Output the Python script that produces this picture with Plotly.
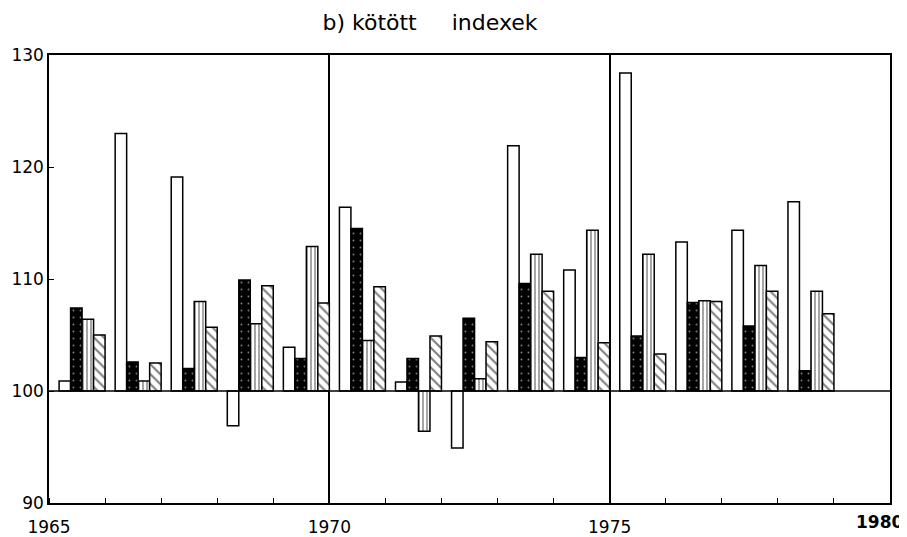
import plotly.graph_objects as go

years = list(range(1965, 1979))
# index values (previous year = 100)
s_white = [100.9, 123.0, 119.1, 96.9, 103.9, 116.4, 100.8, 94.9, 121.9, 110.8, 128.4, 113.3, 114.35, 116.9]
s_dark = [107.4, 102.6, 102.0, 109.9, 102.9, 114.5, 102.9, 106.5, 109.6, 103.0, 104.9, 107.9, 105.8, 101.8]
s_vert = [106.4, 100.9, 108.0, 106.0, 112.9, 104.5, 96.4, 101.1, 112.2, 114.35, 112.2, 108.05, 111.2, 108.9]
s_hatch = [105.0, 102.5, 105.7, 109.4, 107.85, 109.3, 104.9, 104.4, 108.9, 104.3, 103.3, 108.0, 108.9, 106.9]

x_tickvals = [1965, 1970, 1975]
x_ticktext = ["1965", "1970", "1975"]
last_year_label = "1980"

BASE = 100
xpos = [y + 0.59 for y in years]

series = [
    (s_white, dict(color="white", pattern=dict(shape=""))),
    (s_dark, dict(color="black", pattern=dict(shape=".", fgcolor="white", bgcolor="black", size=7, solidity=0.06))),
    (s_vert, dict(color="white", pattern=dict(shape="|", fgcolor="black", bgcolor="white", size=4, solidity=0.35))),
    (s_hatch, dict(color="white", pattern=dict(shape="\\", fgcolor="black", bgcolor="white", size=7, solidity=0.3))),
]

fig = go.Figure()
for vals, mk in series:
    fig.add_trace(go.Bar(
        x=xpos,
        y=[v - BASE for v in vals],
        base=BASE,
        marker=dict(line=dict(color="black", width=1.5), **mk),
        showlegend=False,
    ))

fig.add_shape(type="line", xref="paper", yref="y", x0=0, x1=1, y0=BASE, y1=BASE,
              line=dict(color="black", width=1.5), layer="above")

fig.add_annotation(text=f"<b>{last_year_label}</b>", x=1980, xref="x", y=0, yref="paper",
                   xanchor="center", yanchor="top", xshift=-11, yshift=-7, showarrow=False,
                   font=dict(family="DejaVu Sans", size=17, color="black"))

fig.update_layout(
    width=899, height=529,
    margin=dict(l=41, r=17, t=47, b=34, autoexpand=False),
    paper_bgcolor="white", plot_bgcolor="white",
    barmode="group", bargap=0.18, bargroupgap=0,
    title=dict(text="b)\u00a0kötött\u00a0\u00a0\u00a0\u00a0\u00a0indexek", x=0.4694, xanchor="center",
               y=0.9735, yanchor="middle", automargin=False,
               font=dict(family="DejaVu Sans", size=22, color="black")),
    font=dict(family="DejaVu Sans", size=17, color="black"),
)
fig.update_xaxes(
    range=[1965, 1980],
    tickvals=x_tickvals,
    ticktext=x_ticktext,
    showgrid=True, gridcolor="black", gridwidth=1.5,
    showline=True, linecolor="black", linewidth=1.5, mirror=True,
    ticks="", ticklabelstandoff=8, ticklabeloverflow="allow",
    minor=dict(dtick=1, tick0=1965, ticks="inside", ticklen=5, tickcolor="black", showgrid=False),
    zeroline=False, automargin=False,
)
fig.update_yaxes(
    range=[90, 130],
    tickvals=[90, 100, 110, 120, 130],
    ticktext=["90", "100", "110", "120", "130"],
    showgrid=False,
    showline=True, linecolor="black", linewidth=1.5, mirror=True,
    ticks="inside", ticklen=5, tickcolor="black",
    zeroline=False, automargin=False,
)

fig.write_html("out.html")
